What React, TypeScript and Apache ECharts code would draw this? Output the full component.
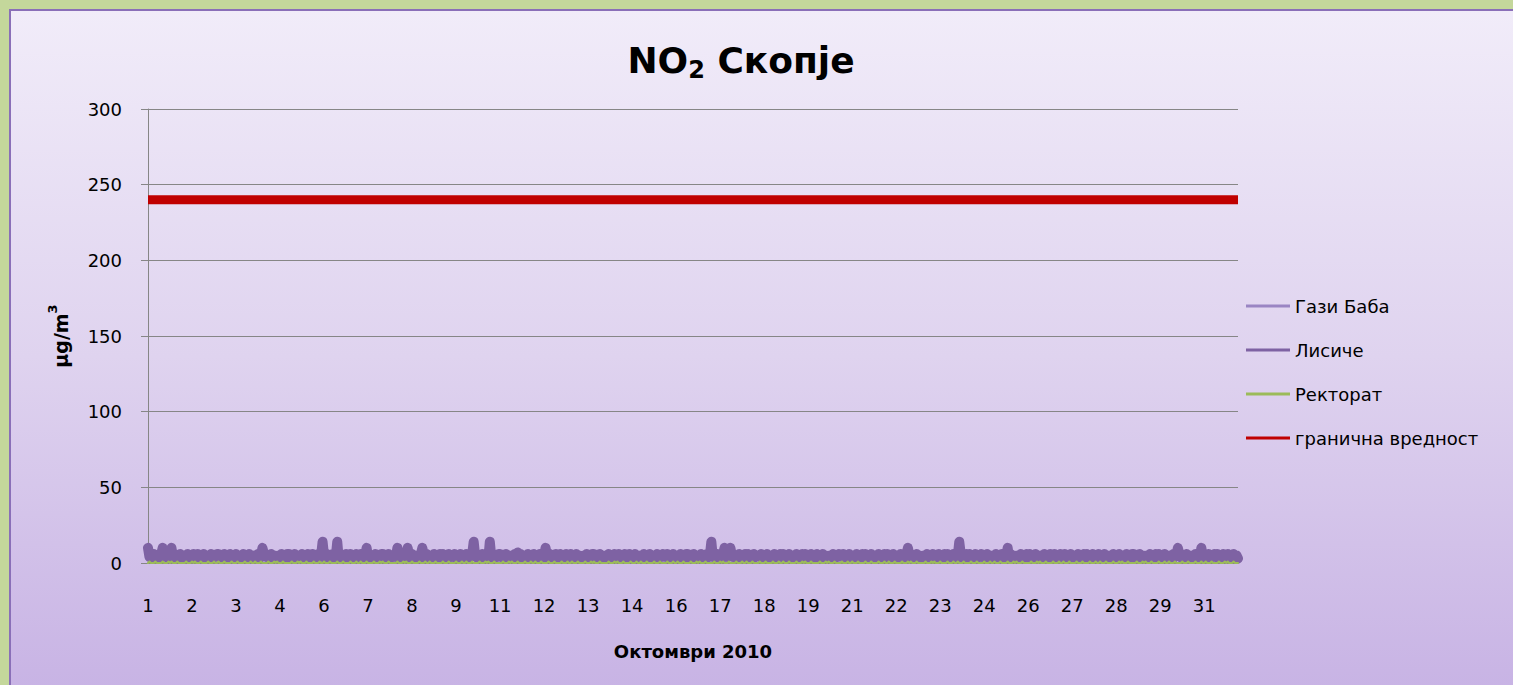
import React, { useEffect, useRef } from "react";
import * as echarts from "echarts";

const FONT = '"Comic Sans MS", "DejaVu Sans", sans-serif';

// Hourly values for October 2010, one string per day (24 chars, base-36 digits)
const LISICE_DAYS = [
  "645364534635463553645364",
  "453645365463546335463546",
  "645364536354635446354635",
  "354635466453645345364536",
  "635463544635463564536453",
  "536453644536453654635463",
  "364536453546354663546354",
  "546354636453645353645364",
  "453645363645364546354635",
  "463546356354635435463546",
  "645364535463546345364536",
  "354635465364536436453645",
  "635463544536453664536453",
  "546354634635463563546354",
  "536453643546354654635463",
  "453645366453645336453645",
  "645364536354635445364536",
  "364536455463546335463546",
  "463546355364536464536453",
  "635463543546354654635463",
  "453645364635463553645364",
  "645364533645364563546354",
  "354635464536453646354635",
  "546354636354635464536453",
  "536453646453645335463546",
  "364536454536453654635463",
  "463546355463546363546354",
  "635463545364536445364536",
  "645364533546354636453645",
  "453645366354635453645364",
  "354635464635463564536453",
];
// [hour index, value] peaks of Лисиче
const LISICE_PEAKS: [number, number][] = [
  [0, 10], [10, 10], [16, 10], [78, 10], [119, 14], [129, 14], [149, 10],
  [170, 10], [177, 10], [187, 10], [222, 14], [233, 14], [252, 7], [271, 10],
  [384, 14], [393, 10], [397, 10], [518, 10], [553, 14], [586, 10],
  [702, 10], [718, 10],
];

const GAZI_DAYS = [
  "323232322323232333232232", "232323233323223232323232", "332322323232323223232323",
  "323232322323232333232232", "232323233323223232323232", "332322323232323223232323",
  "323232322323232333232232", "232323233323223232323232", "332322323232323223232323",
  "323232322323232333232232", "232323233323223232323232", "332322323232323223232323",
  "323232322323232333232232", "232323233323223232323232", "332322323232323223232323",
  "323232322323232333232232", "232323233323223232323232", "332322323232323223232323",
  "323232322323232333232232", "232323233323223232323232", "332322323232323223232323",
  "323232322323232333232232", "232323233323223232323232", "332322323232323223232323",
  "323232322323232333232232", "232323233323223232323232", "332322323232323223232323",
  "323232322323232333232232", "232323233323223232323232", "332322323232323223232323",
  "323232322323232333232232",
];

const REKTORAT_DAYS = [
  "010001000010001010001000", "001000101000100001000100", "100010000100010000100010",
  "010001000010001010001000", "001000101000100001000100", "100010000100010000100010",
  "010001000010001010001000", "001000101000100001000100", "100010000100010000100010",
  "010001000010001010001000", "001000101000100001000100", "100010000100010000100010",
  "010001000010001010001000", "001000101000100001000100", "100010000100010000100010",
  "010001000010001010001000", "001000101000100001000100", "100010000100010000100010",
  "010001000010001010001000", "001000101000100001000100", "100010000100010000100010",
  "010001000010001010001000", "001000101000100001000100", "100010000100010000100010",
  "010001000010001010001000", "001000101000100001000100", "100010000100010000100010",
  "010001000010001010001000", "001000101000100001000100", "100010000100010000100010",
  "010001000010001010001000",
];

// limit value line: [hour index, value]
const LIMIT_POINTS: [number, number][] = [
  [0, 240],
  [743, 240],
];

const SERIES_NAMES = ["Гази Баба", "Лисиче", "Ректорат", "гранична вредност"];
const SERIES_COLORS = ["#9a85c3", "#7e62a3", "#9bbb59", "#c00000"];

const parseDays = (days: string[]) =>
  days.flatMap((s) => s.split("").map((c) => parseInt(c, 36)));

export default function App() {
  const ref = useRef<HTMLDivElement>(null);

  useEffect(() => {
    if (!ref.current) return;
    const chart = echarts.init(ref.current, undefined, { renderer: "svg" });

    const categories: string[] = [];
    for (let d = 1; d <= 31; d++) {
      for (let h = 0; h < 24; h++) categories.push(String(d));
    }
    const lisice = parseDays(LISICE_DAYS);
    LISICE_PEAKS.forEach(([i, v]) => {
      lisice[i] = v;
    });
    const gazi = parseDays(GAZI_DAYS);
    const rektorat = parseDays(REKTORAT_DAYS);

    const lineCommon = {
      type: "line" as const,
      symbol: "none",
      showSymbol: false,
    };

    chart.setOption({
      animation: false,
      textStyle: { fontFamily: FONT, color: "#000" },
      title: {
        text: "{a|NO}{s|2}{a| Скопје}",
        left: 725,
        top: 22,
        textAlign: "center",
        textStyle: {
          rich: {
            a: { fontSize: 36, fontWeight: "bold", fontFamily: FONT, color: "#000", lineHeight: 44, verticalAlign: "middle" },
            s: { fontSize: 24, fontWeight: "bold", fontFamily: FONT, color: "#000", lineHeight: 44, verticalAlign: "bottom" },
          },
        },
      },
      legend: {
        orient: "vertical",
        left: 1230,
        top: 281,
        itemGap: 26,
        itemWidth: 44,
        itemHeight: 3,
        icon: "rect",
        data: SERIES_NAMES,
        textStyle: { fontSize: 18, color: "#000", fontFamily: FONT },
      },
      grid: { left: 137, top: 98, width: 1090, height: 454 },
      xAxis: {
        type: "category",
        boundaryGap: false,
        data: categories,
        name: "Октомври 2010",
        nameLocation: "middle",
        nameGap: 79,
        nameTextStyle: { fontSize: 18, fontWeight: "bold", color: "#000", fontFamily: FONT },
        axisLine: { lineStyle: { color: "#868686", width: 1 } },
        axisTick: { show: false },
        axisLabel: { interval: 29, fontSize: 18, color: "#000", margin: 33, fontFamily: FONT },
        splitLine: { show: false },
      },
      yAxis: {
        type: "value",
        min: 0,
        max: 300,
        interval: 50,
        name: "{a|μg/m}{b|3}",
        nameLocation: "middle",
        nameGap: 78,
        nameRotate: 90,
        nameTextStyle: {
          rich: {
            a: { fontSize: 19, fontWeight: "bold", color: "#000", fontFamily: FONT, lineHeight: 24, verticalAlign: "bottom" },
            b: { fontSize: 13, fontWeight: "bold", color: "#000", fontFamily: FONT, lineHeight: 24, verticalAlign: "top" },
          },
        },
        axisLine: { show: true, lineStyle: { color: "#868686", width: 1 } },
        axisTick: { show: true, length: 7, lineStyle: { color: "#868686" } },
        axisLabel: { fontSize: 18, color: "#000", margin: 26, fontFamily: FONT },
        splitLine: { lineStyle: { color: "#868686", width: 1 } },
      },
      series: [
        {
          ...lineCommon,
          name: SERIES_NAMES[0],
          data: gazi,
          color: SERIES_COLORS[0],
          lineStyle: { color: SERIES_COLORS[0], width: 3, cap: "round", join: "round" },
        },
        {
          ...lineCommon,
          name: SERIES_NAMES[1],
          data: lisice,
          color: SERIES_COLORS[1],
          lineStyle: { color: SERIES_COLORS[1], width: 10, cap: "round", join: "round" },
        },
        {
          ...lineCommon,
          name: SERIES_NAMES[2],
          data: rektorat,
          color: SERIES_COLORS[2],
          lineStyle: { color: SERIES_COLORS[2], width: 2, cap: "round", join: "round" },
        },
        {
          ...lineCommon,
          name: SERIES_NAMES[3],
          data: LIMIT_POINTS,
          color: SERIES_COLORS[3],
          lineStyle: { color: SERIES_COLORS[3], width: 9, cap: "butt" },
        },
      ],
    });

    return () => chart.dispose();
  }, []);

  return (
    <div
      style={{
        position: "fixed",
        left: 0,
        top: 0,
        width: 1513,
        height: 685,
        background: "#c4d79b",
        overflow: "hidden",
      }}
    >
      <div
        style={{
          position: "absolute",
          left: 9,
          top: 9,
          width: 1520,
          height: 690,
          borderLeft: "2px solid #8a6fb8",
          borderTop: "2px solid #8a6fb8",
          background: "linear-gradient(to bottom, #f1ecf9 0%, #dfd3ef 50%, #c7b2e4 100%)",
        }}
      >
        <div ref={ref} style={{ width: 1502, height: 674 }} />
      </div>
    </div>
  );
}
